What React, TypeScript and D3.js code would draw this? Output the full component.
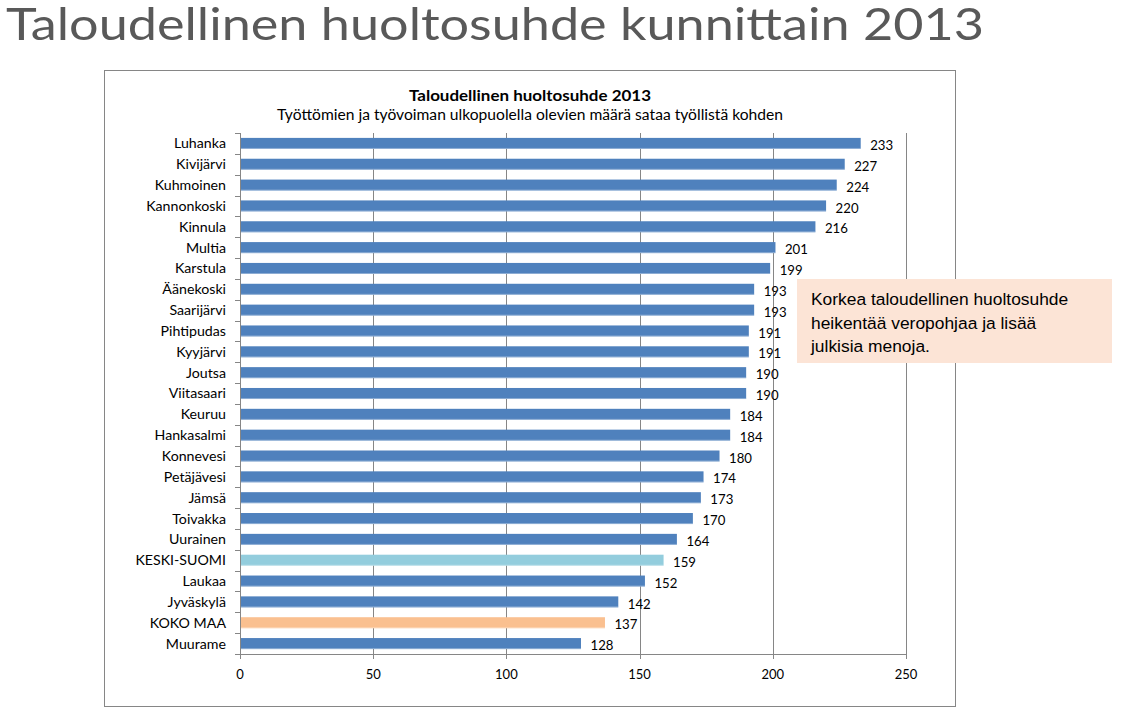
import React from "react";
import * as d3 from "d3";

const categories = [
  "Luhanka", "Kivijärvi", "Kuhmoinen", "Kannonkoski", "Kinnula", "Multia", "Karstula",
  "Äänekoski", "Saarijärvi", "Pihtipudas", "Kyyjärvi", "Joutsa", "Viitasaari", "Keuruu",
  "Hankasalmi", "Konnevesi", "Petäjävesi", "Jämsä", "Toivakka", "Uurainen", "KESKI-SUOMI",
  "Laukaa", "Jyväskylä", "KOKO MAA", "Muurame",
];
const values = [233, 227, 224, 220, 216, 201, 199, 193, 193, 191, 191, 190, 190, 184, 184, 180, 174, 173, 170, 164, 159, 152, 142, 137, 128];
const xTicks = [0, 50, 100, 150, 200, 250];
const pageTitle = "Taloudellinen huoltosuhde kunnittain 2013";
const chartTitle = "Taloudellinen huoltosuhde 2013";
const chartSubtitle = "Työttömien ja työvoiman ulkopuolella olevien määrä sataa työllistä kohden";
const calloutLines = ["Korkea taloudellinen huoltosuhde", "heikentää veropohjaa ja lisää", "julkisia menoja."];

const colorFor = (c: string) =>
  c === "KESKI-SUOMI" ? "#93CDDD" : c === "KOKO MAA" ? "#FAC090" : "#4F81BD";

export default function App() {
  const W = 1133, H = 715;
  const left = 240, right = 906, top = 133, bottom = 654;
  const x = d3.scaleLinear().domain([0, 250]).range([left, right]);
  const y = d3.scaleBand().domain(categories).range([top, bottom]).paddingInner(0.47).paddingOuter(0.235);
  const step = y.step();
  const font = "Lato, 'Open Sans', sans-serif";
  return (
    <div style={{ position: "absolute", left: 0, top: 0 }}>
      <svg width={W} height={H} style={{ display: "block", background: "#fff" }}>
        <text x={6} y={40} fontSize={45} fill="#595959" fontFamily={font} textLength={978} lengthAdjust="spacingAndGlyphs">
          {pageTitle}
        </text>
        <rect x={104.5} y={70.5} width={851} height={636} fill="#fff" stroke="#868686" strokeWidth={1} />
        <text x={530} y={101} textAnchor="middle" fontSize={15} fontWeight="bold" fontFamily={font} fill="#000" textLength={242} lengthAdjust="spacingAndGlyphs">
          {chartTitle}
        </text>
        <text x={530} y={120} textAnchor="middle" fontSize={14.5} fontFamily={font} fill="#000" textLength={506} lengthAdjust="spacingAndGlyphs">
          {chartSubtitle}
        </text>
        {xTicks.filter((t) => t > 0).map((t) => (
          <line key={"g" + t} x1={Math.round(x(t)) + 0.5} x2={Math.round(x(t)) + 0.5} y1={top} y2={bottom} stroke="#868686" strokeWidth={1} />
        ))}
        {categories.map((c, i) => (
          <g key={c}>
            <rect x={x(0)} y={y(c)!} width={x(values[i]) - x(0)} height={y.bandwidth()} fill={colorFor(c)} />
            <rect x={x(0)} y={y(c)! + y.bandwidth() - 1} width={x(values[i]) - x(0)} height={1} fill="#fff" opacity={0.35} />
            <text x={226} y={y(c)! + y.bandwidth() / 2} dy="0.35em" textAnchor="end" fontSize={14.2} fontFamily={font} fill="#000">
              {c}
            </text>
            <text x={x(values[i]) + 9.5} y={y(c)! + y.bandwidth() / 2 + 2} dy="0.35em" fontSize={13.2} fontFamily={font} fill="#000">
              {values[i]}
            </text>
          </g>
        ))}
        {d3.range(categories.length + 1).map((i) => (
          <line key={"t" + i} x1={left - 5} x2={left} y1={Math.round(top + i * step) + 0.5} y2={Math.round(top + i * step) + 0.5} stroke="#868686" />
        ))}
        <line x1={left + 0.5} x2={left + 0.5} y1={top} y2={bottom} stroke="#868686" />
        <line x1={left} x2={right} y1={bottom + 0.5} y2={bottom + 0.5} stroke="#868686" />
        {xTicks.map((t) => (
          <g key={"x" + t}>
            <line x1={Math.round(x(t)) + 0.5} x2={Math.round(x(t)) + 0.5} y1={bottom} y2={bottom + 5} stroke="#868686" />
            <text x={x(t)} y={679} textAnchor="middle" fontSize={13} fontFamily={font} fill="#000">
              {t}
            </text>
          </g>
        ))}
        <rect x={797} y={279} width={315} height={84} fill="#FCE4D6" />
        {calloutLines.map((l, i) => (
          <text key={l} x={811} y={305 + i * 23.5} fontSize={17.4} fontFamily="'Liberation Sans', Arial, sans-serif" fill="#000">
            {l}
          </text>
        ))}
      </svg>
    </div>
  );
}
